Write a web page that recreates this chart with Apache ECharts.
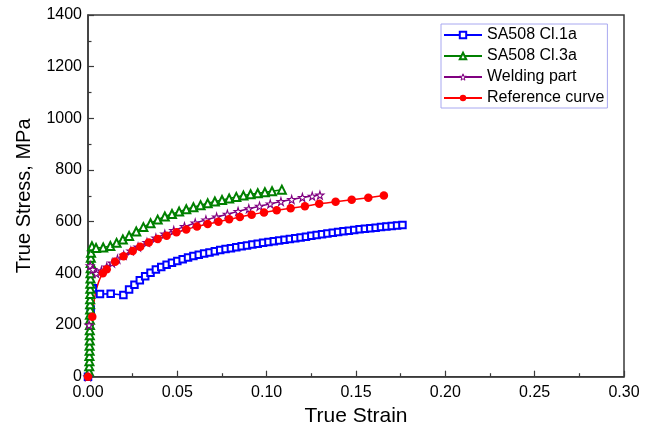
<!DOCTYPE html>
<html><head><meta charset="utf-8">
<script src="https://cdn.jsdelivr.net/npm/echarts@6/dist/echarts.min.js"></script>
<style>html,body{margin:0;padding:0;background:#fff}#c{width:648px;height:436px}</style>
</head><body><div id="c"></div>
<script>
const xTickLabels = ['0.00','0.05','0.10','0.15','0.20','0.25','0.30'];
const yTickLabels = ['0','200','400','600','800','1000','1200','1400'];
const seriesNames = ['SA508 Cl.1a','SA508 Cl.3a','Welding part','Reference curve'];

const blueStrain = [0,0.0015,0.0027,0.0067,0.0127,0.0198,
 0.023,0.026,0.029,0.032,0.035,0.038,0.041,0.044,0.047,0.050,0.053,0.056,0.059,0.062,0.065,0.068,0.071,0.074,0.077,0.080,
 0.083,0.086,0.089,0.092,0.095,0.098,0.101,0.104,0.107,0.110,0.113,0.116,0.119,0.122,0.125,0.128,0.131,0.134,0.137,0.140,
 0.143,0.146,0.149,0.152,0.155,0.158,0.161,0.164,0.167,0.170,0.173,0.176];
const blueStress = [0,260,342,320,321,316,
 338,356,373,389,402,415,425,433,441,448,455,461,467,472,477,481,486,490,494,497,
 501,505,508,512,515,518,521,524,527,530,533,536,539,542,546,548,551,554,557,560,
 563,565,568,571,573,575,577,579,581,583,585,587];

const greenStrain = [0.0006,0.0007,0.0008,0.0008,0.0009,0.0009,0.0010,0.0010,0.0010,0.0011,0.0011,0.0011,0.0012,0.0012,0.0012,0.0013,0.0013,0.0013,0.0014,0.0014,0.0015,0.0015,0.0016,0.0017,
 0.0022,0.0045,0.0085,0.0125,0.016,0.0195,0.023,0.027,0.031,0.035,0.039,0.043,0.047,0.051,0.055,0.059,0.063,0.067,0.071,0.075,0.079,0.083,0.087,0.091,0.095,0.099,0.103,0.1085];
const greenStress = [20,40,60,80,100,120,140,160,180,200,220,240,260,280,300,320,340,360,380,400,420,440,460,480,
 505,498,500,506,518,531,545,562,579,594,608,620,630,639,648,656,664,671,678,684,690,696,701,706,710,714,718,724];

const purpleStrain = [0,0.0006,0.0012,0.0027,0.0046,0.0075,0.0105,0.0135,0.0165,0.020,0.024,0.028,0.033,0.038,0.043,0.048,0.054,0.060,0.066,0.072,0.078,0.084,0.090,0.096,0.102,0.108,0.114,0.120,0.1255,0.1298];
const purpleStress = [0,200,430,415,400,410,425,440,455,470,487,502,520,537,552,566,581,595,607,618,629,640,650,660,669,678,686,694,699,703];

const redStrain = [0,0.0024,0.0083,0.0105,0.0152,0.0199,0.025,0.0292,0.034,0.039,0.044,0.0495,0.055,0.061,0.067,0.073,0.079,0.085,0.0916,0.0985,0.1056,0.1134,0.1214,0.1294,0.1386,0.1476,0.1569,0.1656];
const redStress = [0,232,400,416,445,466,487,503,519,533,546,559,570,581,591,600,609,618,627,636,644,652,660,669,677,685,693,701];
// extra points of the fitted reference curve (drawn as line only)
const redFitStrain = [0.0008,0.004,0.006];
const redFitStress = [110,318,368];

function pairs(xs, ys){ return xs.map((x,i)=>[x, ys[i]]); }
const redData = redStrain.map((x,i)=>({value:[x, redStress[i]]}))
  .concat(redFitStrain.map((x,i)=>({value:[x, redFitStress[i]], symbol:'none'})))
  .sort((a,b)=>a.value[0]-b.value[0]);

const FONT = "'Liberation Sans', Arial, sans-serif";
const AX = '#3a3a3a';
const starPath = 'path://M50,0 L61,35 L98,35 L68,57 L79,91 L50,70 L21,91 L32,57 L2,35 L39,35 Z';

const chart = echarts.init(document.getElementById('c'), null, {renderer:'canvas'});
chart.setOption({
  animation:false,
  backgroundColor:'#fff',
  grid:{left:88, right:24, top:15, bottom:59.3, show:true, borderColor:AX, borderWidth:1.5, outerBoundsMode:'none'},
  legend:{
    orient:'vertical', left:441, top:24,
    itemWidth:38, itemHeight:8, itemGap:5,
    padding:[3,3,2,2],
    borderColor:'#a8a8f0', borderWidth:1,
    textStyle:{fontSize:16, fontFamily:FONT, color:'#000'},
    data:[
      {name:seriesNames[0]},
      {name:seriesNames[1]},
      {name:seriesNames[2], itemStyle:{color:'#ffffff', borderColor:'#800080', borderWidth:1}},
      {name:seriesNames[3]}
    ]
  },
  xAxis:{
    type:'value', min:0, max:0.3, interval:0.05,
    name:'True Strain', nameLocation:'middle', nameGap:24,
    nameTextStyle:{fontSize:21, fontFamily:FONT, color:'#000'},
    axisLine:{lineStyle:{color:AX, width:1.5}},
    axisTick:{inside:true, length:6, lineStyle:{color:AX, width:1.2}},
    minorTick:{show:true, splitNumber:2, length:3.5, lineStyle:{color:AX, width:1.2}},
    splitLine:{show:false},
    axisLabel:{fontSize:16, fontFamily:FONT, color:'#000', margin:8, formatter:(v,i)=>xTickLabels[i]}
  },
  yAxis:{
    type:'value', min:0, max:1400, interval:200,
    name:'True Stress, MPa', nameLocation:'middle', nameGap:54,
    nameTextStyle:{fontSize:20, fontFamily:FONT, color:'#000'},
    axisLine:{show:true, lineStyle:{color:AX, width:1.5}},
    axisTick:{show:true, inside:true, length:6, lineStyle:{color:AX, width:1.2}},
    minorTick:{show:true, splitNumber:2, length:3.5, lineStyle:{color:AX, width:1.2}},
    splitLine:{show:false},
    axisLabel:{fontSize:16, fontFamily:FONT, color:'#000', margin:6, formatter:(v,i)=>yTickLabels[i]}
  },
  series:[
    {name:seriesNames[0], type:'line', data:pairs(blueStrain, blueStress),
     symbol:'emptyRect', symbolSize:6.5, color:'#0000ff',
     lineStyle:{color:'#0000ff', width:1.5}, itemStyle:{color:'#0000ff', borderWidth:1.3}},
    {name:seriesNames[1], type:'line', data:pairs(greenStrain, greenStress),
     symbol:'emptyTriangle', symbolSize:8, color:'#008000',
     lineStyle:{color:'#008000', width:1.5}, itemStyle:{color:'#008000', borderWidth:1.3}},
    {name:seriesNames[2], type:'line', data:pairs(purpleStrain, purpleStress),
     symbol:starPath, symbolSize:8, color:'#800080',
     lineStyle:{color:'#800080', width:1.5}, itemStyle:{color:'#ffffff', borderColor:'#800080', borderWidth:1.1}},
    {name:seriesNames[3], type:'line', data:redData, smooth:0.3,
     symbol:'circle', symbolSize:8.5, color:'#ff0000',
     lineStyle:{color:'#ff0000', width:1.5}, itemStyle:{color:'#ff0000'}}
  ]
});
</script></body></html>
